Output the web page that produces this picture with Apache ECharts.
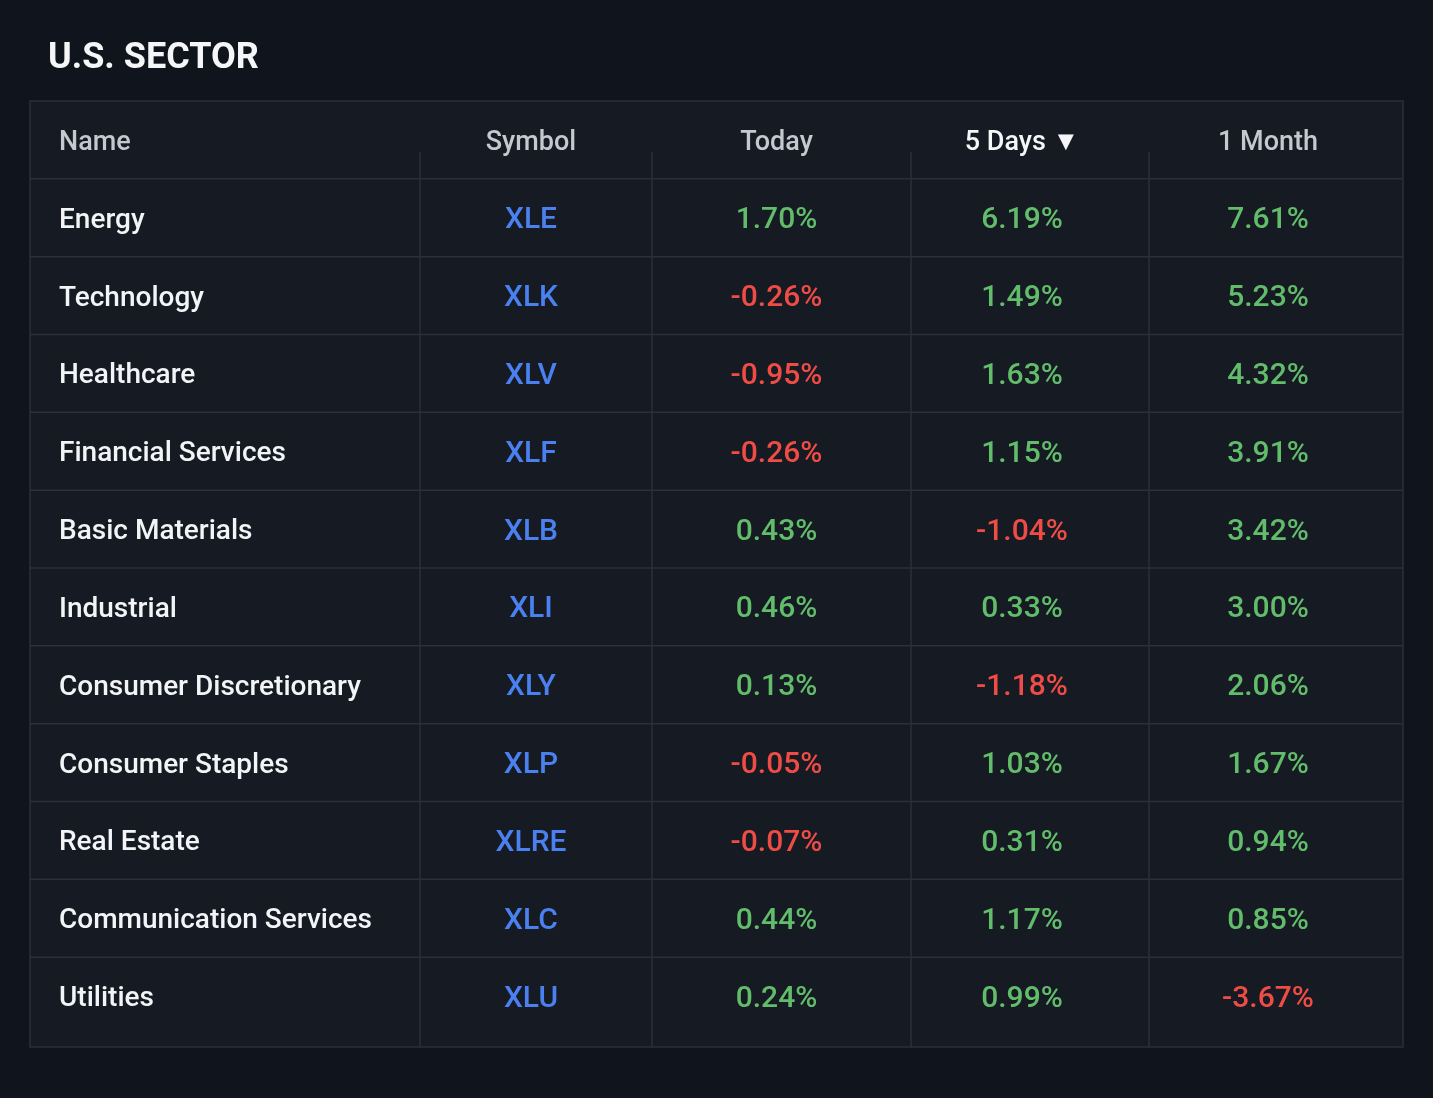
<!DOCTYPE html>
<html>
<head>
<meta charset="utf-8">
<style>
  html, body { margin: 0; padding: 0; background: #10141c; }
  #table { width: 1433px; height: 1098px; }
</style>
<script src="https://cdn.jsdelivr.net/npm/echarts@6/dist/echarts.min.js"></script>
</head>
<body>
<div id="table"></div>
<script>
// sector data
var headers = ['Name', 'Symbol', 'Today', '5 Days \u25BC', '1 Month'];
var names = ['Energy', 'Technology', 'Healthcare', 'Financial Services', 'Basic Materials',
  'Industrial', 'Consumer Discretionary', 'Consumer Staples', 'Real Estate',
  'Communication Services', 'Utilities'];
var symbols = ['XLE', 'XLK', 'XLV', 'XLF', 'XLB', 'XLI', 'XLY', 'XLP', 'XLRE', 'XLC', 'XLU'];
var today = [1.70, -0.26, -0.95, -0.26, 0.43, 0.46, 0.13, -0.05, -0.07, 0.44, 0.24];
var fiveDays = [6.19, 1.49, 1.63, 1.15, -1.04, 0.33, -1.18, 1.03, 0.31, 1.17, 0.99];
var oneMonth = [7.61, 5.23, 4.32, 3.91, 3.42, 3.00, 2.06, 1.67, 0.94, 0.85, -3.67];

// layout: column edges along the table width, and text nudges
var colEdges = [0, 390, 622, 881, 1119, 1373];
var colShift = [29, -5, -5, -8, -8];

var GREEN = '#62bd6b', RED = '#f04c46', BLUE = '#4a80ef', LINE = '#2a313c';

function pct(v) { return v.toFixed(2) + '%'; }
function tone(v) { return v < 0 ? RED : GREEN; }

var rowKeys = ['header'].concat(names);
var cells = [];
rowKeys.forEach(function (key, r) {
  for (var c = 0; c < 5; c++) {
    var cell = { col: c, row: r, text: '', color: '#f3f4f6', weight: 500, size: 28 };
    if (r === 0) {
      cell.text = headers[c];
      cell.size = 27;
      cell.color = c === 3 ? '#f5f6f8' : '#c4c8cf';
    } else {
      var i = r - 1;
      if (c === 0) cell.text = names[i];
      if (c === 1) { cell.text = symbols[i]; cell.color = BLUE; cell.size = 30; }
      if (c === 2) { cell.text = pct(today[i]); cell.color = tone(today[i]); cell.size = 30; }
      if (c === 3) { cell.text = pct(fiveDays[i]); cell.color = tone(fiveDays[i]); cell.size = 30; }
      if (c === 4) { cell.text = pct(oneMonth[i]); cell.color = tone(oneMonth[i]); cell.size = 30; }
    }
    cells.push(cell);
  }
});

function renderCell(params, api) {
  var cell = cells[params.dataIndex];
  var r = cell.row, c = cell.col;
  var left = api.coord([api.value(0), r]);
  var right = api.coord([api.value(2), r]);
  var h = api.size([0, 1])[1];
  var yTop = left[1] - h / 2;
  var yBot = left[1] + h / 2;
  if (r === rowKeys.length - 1) yBot += 12;
  var kids = [];
  if (r > 0) {
    kids.push({ type: 'line', shape: { x1: left[0], y1: yTop, x2: right[0], y2: yTop },
      style: { stroke: LINE, lineWidth: 1.5 } });
  }
  if (c > 0) {
    var vTop = r === 0 ? yTop + 51 : yTop;
    kids.push({ type: 'line', shape: { x1: left[0], y1: vTop, x2: left[0], y2: yBot },
      style: { stroke: LINE, lineWidth: 1.5 } });
  }
  var tx = c === 0 ? left[0] + colShift[c] : (left[0] + right[0]) / 2 + colShift[c];
  kids.push({ type: 'text', x: tx, y: left[1] + 3,
    style: {
      text: cell.text, fill: cell.color, align: c === 0 ? 'left' : 'center',
      verticalAlign: 'middle', fontFamily: 'Roboto', fontSize: cell.size,
      fontWeight: cell.weight
    } });
  return { type: 'group', children: kids };
}

var option = {
  backgroundColor: '#10141c',
  animation: false,
  title: {
    text: 'U.S. SECTOR', left: 43, top: 36,
    textStyle: { color: '#f5f6f8', fontSize: 36, fontWeight: 'bold', fontFamily: 'Roboto' }
  },
  graphic: [{
    type: 'rect', z: -10,
    shape: { x: 30, y: 101, width: 1373, height: 946 },
    style: { fill: '#151a23', stroke: LINE, lineWidth: 1.5 }
  }],
  grid: { left: 30, right: 30, top: 101, height: 934 },
  xAxis: { type: 'value', min: colEdges[0], max: colEdges[colEdges.length - 1], show: false },
  yAxis: { type: 'category', data: rowKeys, inverse: true, show: false },
  series: [{
    type: 'custom',
    renderItem: renderCell,
    encode: { x: [0, 2], y: 1 },
    data: cells.map(function (cell) {
      return [colEdges[cell.col], cell.row, colEdges[cell.col + 1]];
    })
  }]
};

var chart = echarts.init(document.getElementById('table'));
chart.setOption(option);
</script>
</body>
</html>
